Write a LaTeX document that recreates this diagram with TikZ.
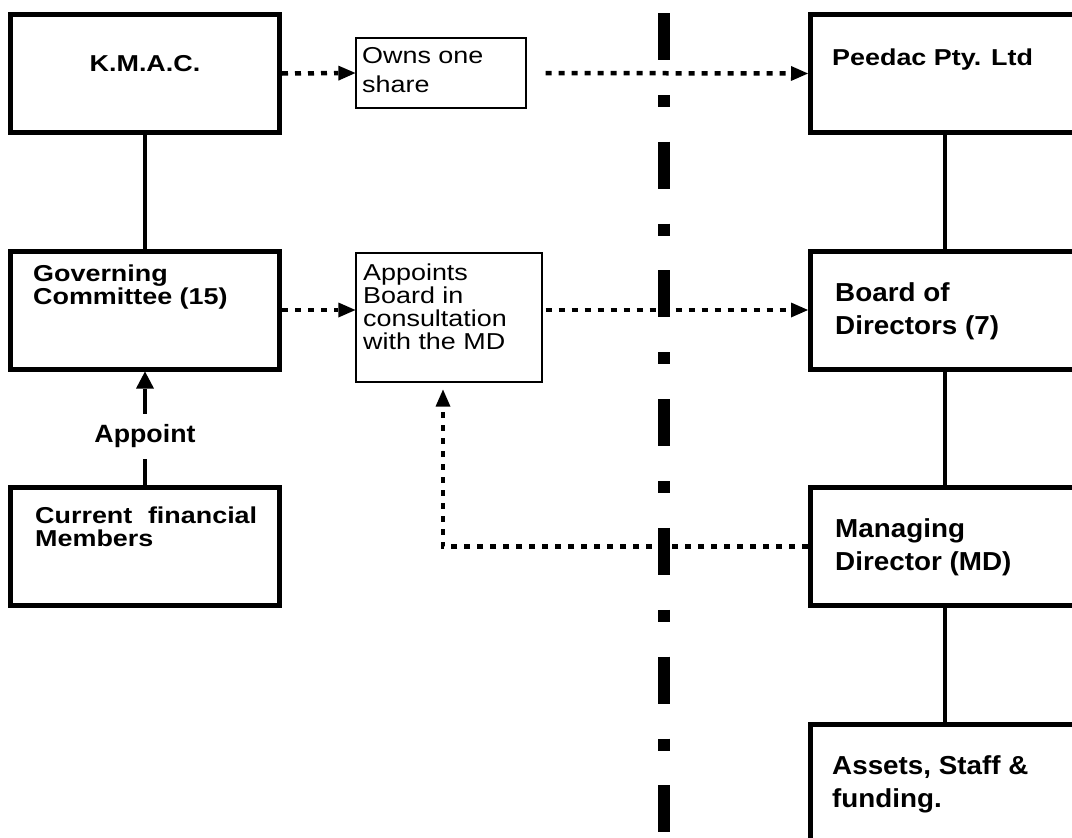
\documentclass[tikz,border=0pt]{standalone}
\usepackage{fontspec}
\setmainfont{Liberation Sans}[FakeStretch=1.17]
\newfontfamily\widesans{Liberation Sans}[FakeStretch=1.07]
\usepackage{tikz}
\usetikzlibrary{arrows.meta, positioning, calc}

\tikzset{
  orgbox/.style={rectangle, draw, line width=5pt, minimum width=269pt, minimum height=118pt, inner sep=0pt},
  notebox/.style={rectangle, draw, line width=1.2pt, inner sep=0pt},
  boxtext/.style={anchor=north west, inner sep=0pt, align=left, font=\bfseries\fontsize{23}{23}\selectfont},
  bigtext/.style={anchor=north west, inner sep=0pt, align=left, font=\widesans\bfseries\fontsize{26}{33.5}\selectfont},
  notetext/.style={anchor=north west, inner sep=0pt, align=left, font=\fontsize{23}{23}\selectfont},
  link/.style={line width=4.5pt},
  dotlink/.style={line width=4.5pt, dash pattern=on 6pt off 7pt, -{Triangle[length=17pt, width=15pt, line width=0pt]}}
}

\begin{document}
\begin{tikzpicture}[x=1pt, y=-1pt]
    \path[use as bounding box] (0,0) rectangle (1072,838);
    \clip (0,0) rectangle (1072,838);

    % K.M.A.C. side
    \node[orgbox] (kmac) at (145, 73.5) {};
    \node[orgbox] (gov) at (145, 310) {};
    \node[orgbox] (members) at (145, 546.5) {};
    \node[boxtext, anchor=north] (kmactxt) at (145, 55) {K.M.A.C.};
    \node[boxtext] (govtxt) at (33, 265) {Governing\\Committee (15)};
    \node[boxtext, text width=222pt, align=justify] (memtxt) at (35, 507) {Current financial Members};

    % Peedac side
    \node[orgbox] (peedac) at (945, 73.5) {};
    \node[orgbox] (board) at (945, 310) {};
    \node[orgbox] (md) at (945, 546.5) {};
    \node[orgbox] (assets) at (945, 783) {};
    \node[boxtext] (peedactxt) at (832, 49) {Peedac Pty. Ltd};
    \node[bigtext] (boardtxt) at (835, 282) {Board of\\Directors (7)};
    \node[bigtext] (mdtxt) at (835, 518) {Managing\\Director (MD)};
    \node[bigtext] (assetstxt) at (832, 755) {Assets, Staff \&\\funding.};

    % notes in the middle
    \node[notebox, minimum width=170pt, minimum height=70pt] (owns) at (441, 73) {};
    \node[notebox, minimum width=186pt, minimum height=129pt] (appoints) at (449, 317.5) {};
    \node[notetext, font=\fontsize{23}{29}\selectfont] (ownstxt) at (362, 47) {Owns one\\share};
    \node[notetext] (apptxt) at (363, 264) {Appoints\\Board in\\consultation\\with the MD};

    % dividing line
    \coordinate (divtop) at (664, 13);
    \coordinate (divbot) at (664, 850);
    \draw[line width=12pt, dash pattern=on 47pt off 35pt on 12pt off 34.7pt] (divtop) -- (divbot);

    % solid links
    \draw[link] (kmac) -- (gov);
    \draw[link] (peedac) -- (board);
    \draw[link] (board) -- (md);
    \draw[link] (md) -- (assets);
    \draw[link, -{Triangle[length=17pt, width=18pt, line width=0pt]}] (members) --
        node[pos=0.43, fill=white, inner xsep=4pt, inner ysep=11pt, font=\widesans\bfseries\fontsize{25}{28}\selectfont] (appointlbl) {Appoint} (gov);

    % dotted links
    \draw[dotlink] (kmac.east) -- (owns.west);
    \draw[dotlink, shorten <=19pt] (owns.east) -- (peedac.west);
    \draw[dotlink] (gov.east) -- (gov.east -| appoints.west);
    \draw[dotlink, shorten <=3pt] (appoints.east |- board.west) -- (board.west);
    \draw[dotlink] (md.west) -| ([xshift=-6pt, yshift=-7pt]appoints.south);
\end{tikzpicture}
\end{document}
